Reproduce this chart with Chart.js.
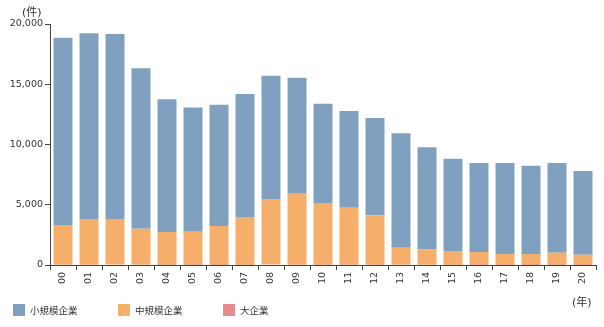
<!DOCTYPE html>
<html>
<head>
<meta charset="utf-8">
<script src="https://cdn.jsdelivr.net/npm/chart.js@4"></script>
<style>
  html, body { margin: 0; padding: 0; background: #fff; }
  #wrap { position: relative; width: 604px; height: 327px; font-family: "DejaVu Sans", "Noto Sans CJK JP", sans-serif; color: #333; }
  #myChart { position: absolute; left: 0; top: 0; }
  .unit { position: absolute; font-size: 11px; line-height: 12px; }
  .leg { position: absolute; top: 304px; height: 12px; font-size: 9.5px; line-height: 14px; white-space: nowrap; }
  .leg span { display: inline-block; width: 12px; height: 12px; vertical-align: top; margin-right: 5px; }
</style>
</head>
<body>
<div id="wrap">
  <canvas id="myChart" width="604" height="327"></canvas>
  <div class="unit" style="left:22px; top:7px;">(件)</div>
  <div class="unit" style="left:572px; top:297px;">(年)</div>
  <div id="legend"></div>
</div>
<script>
// years (x axis)
const years = ['00','01','02','03','04','05','06','07','08','09','10','11','12','13','14','15','16','17','18','19','20'];

// bankruptcies by size of firm (件)
const small = [15540,15410,15350,13310,11010,10320,10060,10210,10230,9620,8250,8020,8080,9490,8490,7660,7380,7550,7330,7440,6950];
const medium = [3290,3790,3780,2980,2725,2750,3230,3965,5420,5890,5125,4745,4100,1410,1255,1145,1070,900,905,1010,840];
const large = [30,30,40,30,15,10,10,15,60,30,15,15,20,30,25,15,10,10,5,10,10];

const seriesNames = ['小規模企業','中規模企業','大企業'];
const seriesColors = ['#80a0c0','#f5af6a','#e88a8e'];

const yTicks = [0,5000,10000,15000,20000];

const fontFamily = '"DejaVu Sans", "Noto Sans CJK JP", sans-serif';
const axisColor = '#444';

const renderChart = () => {
    var ctx = document.getElementById('myChart').getContext('2d');
    new Chart(ctx, {
        type: 'bar',
        data: {
            labels: years,
            // stacked bottom to top: large, medium, small
            datasets: [
                { label: seriesNames[2], data: large, backgroundColor: seriesColors[2] },
                { label: seriesNames[1], data: medium, backgroundColor: seriesColors[1] },
                { label: seriesNames[0], data: small, backgroundColor: seriesColors[0] }
            ]
        },
        options: {
            responsive: false,
            animation: false,
            layout: { padding: { top: 24, right: 8, bottom: 0, left: 0 } },
            datasets: {
                bar: { barPercentage: 0.73, categoryPercentage: 1.0, borderWidth: 0 }
            },
            plugins: {
                legend: { display: false },
                tooltip: { enabled: false }
            },
            scales: {
                x: {
                    stacked: true,
                    border: { color: axisColor, width: 1 },
                    grid: { drawOnChartArea: false, tickLength: 5, color: axisColor, offset: true },
                    ticks: {
                        color: '#333',
                        font: { family: fontFamily, size: 9.5 },
                        minRotation: 90,
                        maxRotation: 90,
                        padding: 2,
                        autoSkip: false
                    },
                    afterFit: (scale) => { scale.height = 62; }
                },
                y: {
                    stacked: true,
                    min: 0,
                    max: 20000,
                    border: { color: axisColor, width: 1 },
                    grid: { drawOnChartArea: false, tickLength: 5, color: axisColor },
                    afterBuildTicks: (scale) => { scale.ticks = yTicks.map(v => ({ value: v })); },
                    ticks: {
                        color: '#333',
                        font: { family: fontFamily, size: 9.5 },
                        padding: 2,
                        callback: (v) => v.toLocaleString('en-US')
                    },
                    afterFit: (scale) => { scale.width = 50; }
                }
            }
        }
    });
};

const renderLegend = () => {
    const lefts = [13, 118, 223];
    const box = document.getElementById('legend');
    seriesNames.forEach((name, i) => {
        const item = document.createElement('div');
        item.className = 'leg';
        item.style.left = lefts[i] + 'px';
        item.innerHTML = '<span style="background:' + seriesColors[i] + '"></span>' + name;
        box.appendChild(item);
    });
};

renderChart();
renderLegend();
</script>
</body>
</html>
